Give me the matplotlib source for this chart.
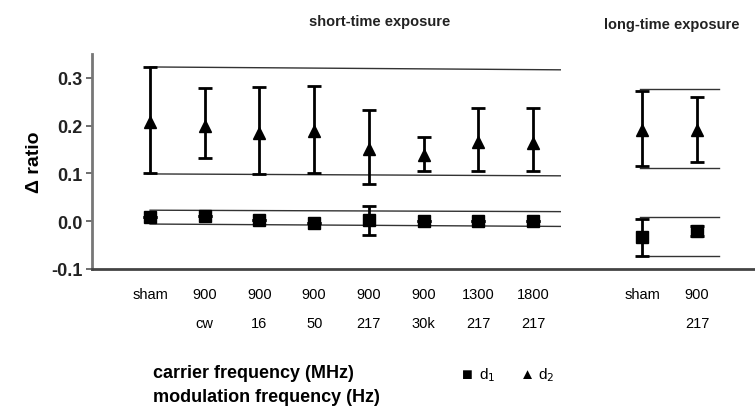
import numpy as np
import matplotlib.pyplot as plt

# conditions (carrier MHz / modulation Hz); short-time group then long-time group
top_labels = ['sham', '900', '900', '900', '900', '900', '1300', '1800', 'sham', '900']
bottom_labels = ['', 'cw', '16', '50', '217', '30k', '217', '217', '', '217']
positions = [0, 1, 2, 3, 4, 5, 6, 7, 9, 10]

# d2 (triangles): mean, upper and lower end of error bar
d2_mean = [0.207, 0.199, 0.184, 0.188, 0.151, 0.139, 0.165, 0.164, 0.192, 0.192]
d2_high = [0.323, 0.278, 0.282, 0.283, 0.233, 0.177, 0.237, 0.237, 0.273, 0.261]
d2_low = [0.100, 0.133, 0.099, 0.100, 0.077, 0.106, 0.105, 0.105, 0.115, 0.124]

# d1 (squares)
d1_mean = [0.009, 0.011, 0.002, -0.003, 0.002, 0.000, 0.000, 0.000, -0.034, -0.021]
d1_high = [0.009, 0.011, 0.002, -0.003, 0.031, 0.000, 0.000, 0.000, 0.004, -0.010]
d1_low = [0.009, 0.011, 0.002, -0.003, -0.029, 0.000, 0.000, 0.000, -0.072, -0.032]

# reference (sham range) lines: x start, x end, y start, y end
ref_lines = [
    (0, 7.5, 0.323, 0.317),
    (-0.05, 7.5, 0.099, 0.095),
    (0, 7.5, 0.023, 0.020),
    (0, 7.5, -0.006, -0.011),
    (8.95, 10.4, 0.276, 0.276),
    (8.95, 10.4, 0.112, 0.112),
    (8.95, 10.4, 0.008, 0.008),
    (8.95, 10.4, -0.073, -0.073),
]

plt.rcParams['font.family'] = ['Liberation Sans', 'DejaVu Sans']

fig = plt.figure(figsize=(7.55, 4.14), dpi=100)
ax = fig.add_axes([0.122, 0.348, 0.878, 0.519])

for x0, x1, y0, y1 in ref_lines:
    ax.plot([x0, x1], [y0, y1], color='#333333', linewidth=1.0, zorder=1)

x = np.array(positions)
d2_mean = np.array(d2_mean)
d1_mean = np.array(d1_mean)
d2_err = [d2_mean - np.array(d2_low), np.array(d2_high) - d2_mean]
d1_err = [d1_mean - np.array(d1_low), np.array(d1_high) - d1_mean]

ax.errorbar(x, d2_mean, yerr=d2_err, fmt='^', color='black', markersize=9,
            elinewidth=2, capsize=5, capthick=2, zorder=3)
ax.errorbar(x, d1_mean, yerr=d1_err, fmt='s', color='black', markersize=8,
            elinewidth=2, capsize=5, capthick=2, zorder=3)

ax.set_xlim(-1.06, 11.06)
ax.set_ylim(-0.1, 0.35)
ax.set_yticks([-0.1, 0.0, 0.1, 0.2, 0.3])
ax.set_yticklabels(['-0.1', '0.0', '0.1', '0.2', '0.3'], fontsize=13, fontweight='bold', color='#222222')
ax.tick_params(axis='y', direction='out', length=4, width=1.2, color='#555555', pad=3)
ax.set_xticks([])

for side in ['top', 'right']:
    ax.spines[side].set_visible(False)
ax.spines['left'].set_linewidth(2)
ax.spines['left'].set_color('#777777')
ax.spines['bottom'].set_linewidth(2)
ax.spines['bottom'].set_color('#444444')

ax.set_ylabel('Δ ratio', fontsize=14, fontweight='bold', labelpad=6)

# two-line condition labels under the axis
for px, t, b in zip(positions, top_labels, bottom_labels):
    ax.annotate(t, xy=(px, 0), xycoords=('data', 'axes fraction'), xytext=(0, -18),
                textcoords='offset points', ha='center', va='center', fontsize=10.5)
    ax.annotate(b, xy=(px, 0), xycoords=('data', 'axes fraction'), xytext=(0, -39),
                textcoords='offset points', ha='center', va='center', fontsize=10.5)

fig.text(0.503, 0.947, 'short-time exposure', ha='center', va='center', fontsize=10.5, fontweight='bold', color='#222222')
fig.text(0.89, 0.94, 'long-time exposure', ha='center', va='center', fontsize=10.5, fontweight='bold', color='#222222')

fig.text(0.203, 0.099, 'carrier frequency (MHz)', ha='left', va='center', fontsize=13, fontweight='bold')
fig.text(0.203, 0.041, 'modulation frequency (Hz)', ha='left', va='center', fontsize=13, fontweight='bold')

# legend
fig.text(0.619, 0.094, '■', ha='center', va='center', fontsize=13)
fig.text(0.645, 0.094, 'd$_1$', ha='center', va='center', fontsize=11)
fig.text(0.698, 0.094, '▲', ha='center', va='center', fontsize=11)
fig.text(0.724, 0.094, 'd$_2$', ha='center', va='center', fontsize=11)

fig.savefig('out.png', dpi=100)
